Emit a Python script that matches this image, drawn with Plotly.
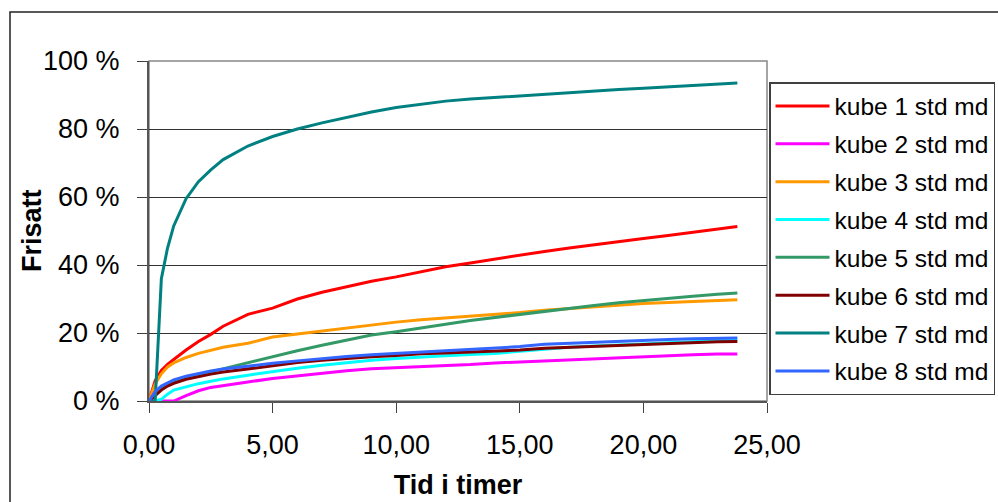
import plotly.graph_objects as go

t = [0, 0.25, 0.5, 0.75, 1, 1.5, 2, 2.5, 3, 4, 5, 6, 7, 8, 9, 10, 11, 12, 13, 14,
     15, 16, 17, 18, 19, 20, 21, 22, 23, 23.8]

kube1 = [0, 6, 9, 10.8, 12.2, 15, 17.5, 19.6, 22, 25.5, 27.3, 30, 32, 33.7, 35.2, 36.5, 38, 39.5, 40.6, 41.8,
         43, 44, 45, 46, 47, 47.8, 48.7, 49.6, 50.5, 51.3]
kube2 = [0, 0, 0, 0, 0, 1.6, 3, 4, 4.6, 5.6, 6.6, 7.4, 8.2, 8.9, 9.5, 9.8, 10.1, 10.2, 10.7, 11.2,
         11.5, 12, 12.2, 12.6, 12.9, 13.1, 13.3, 13.6, 13.8, 13.8]
kube3 = [0, 5, 8, 10, 11.2, 12.8, 14, 15, 15.8, 17, 18.8, 19.7, 20.6, 21.5, 22.5, 23.2, 23.9, 24.4, 25, 25.5,
         26, 26.7, 27.2, 27.7, 28.3, 28.7, 29, 29.3, 29.6, 29.8]
kube4 = [0, 0, 0.5, 2, 3.2, 4.2, 5.1, 5.8, 6.5, 7.6, 8.7, 9.6, 10.5, 11.3, 12, 12.5, 13, 13.3, 13.7, 14,
         14.6, 15.3, 15.8, 16.2, 16.6, 16.8, 17.1, 17.4, 17.7, 18]
kube5 = [0, 2, 3.8, 4.9, 5.7, 6.8, 7.7, 8.6, 9.5, 11.2, 12.9, 14.8, 16.4, 17.8, 19.4, 20.4, 21.4, 22.6, 23.7, 24.6,
         25.5, 26.5, 27.3, 28.1, 28.9, 29.6, 30.2, 30.8, 31.4, 31.8]
kube6 = [0, 1.5, 3.2, 4.4, 5.2, 6.4, 7.2, 7.9, 8.5, 9.5, 10.5, 11.3, 12, 12.6, 13, 13.4, 13.9, 14.1, 14.4, 14.6,
         15, 15.5, 15.8, 16.1, 16.3, 16.5, 16.8, 17.1, 17.4, 17.5]
kube7 = [0, 0, 36, 45, 51.5, 59.5, 64.5, 68, 71, 75, 77.8, 80, 81.8, 83.5, 85, 86.3, 87.3, 88.2, 88.8, 89.3,
         89.8, 90.3, 90.8, 91.2, 91.6, 92, 92.4, 92.8, 93.2, 93.5]
kube8 = [0, 2.8, 4.4, 5.4, 6.2, 7.3, 8.1, 8.8, 9.4, 10.3, 11.1, 11.8, 12.5, 13.1, 13.6, 14, 14.5, 14.9, 15.2, 15.5,
         16, 16.7, 17, 17.3, 17.6, 18, 18.1, 18.3, 18.4, 18.5]

names = ["kube 1 std md", "kube 2 std md", "kube 3 std md", "kube 4 std md",
         "kube 5 std md", "kube 6 std md", "kube 7 std md", "kube 8 std md"]
series = [kube1, kube2, kube3, kube4, kube5, kube6, kube7, kube8]
colors = ["#FF0000", "#FF00FF", "#FF9900", "#00FFFF", "#339966", "#800000", "#008080", "#3366FF"]

x_ticks = [0, 5, 10, 15, 20, 25]
x_labels = ["0,00", "5,00", "10,00", "15,00", "20,00", "25,00"]
y_ticks = [0, 20, 40, 60, 80, 100]
y_labels = ["0 %", "20 %", "40 %", "60 %", "80 %", "100 %"]

FONT = "Liberation Sans, Arial, sans-serif"

fig = go.Figure()
for i, (nm, ys, c) in enumerate(zip(names, series, colors)):
    fig.add_trace(go.Scatter(x=t, y=ys, mode="lines", name=nm,
                             line=dict(color=c, width=3), legendgroup=str(i)))

W, H = 998, 502
L, R, T, B = 149, 231, 61, 101
pw, ph = W - L - R, H - T - B

def px2paper_x(px):
    return (px - L) / pw

def px2paper_y(py):
    return (H - B - py) / ph

fig.update_layout(
    width=W, height=H,
    margin=dict(l=L, r=R, t=T, b=B, autoexpand=False),
    paper_bgcolor="white", plot_bgcolor="white",
    font=dict(family=FONT, color="black"),
    showlegend=True,
    legend=dict(
        x=px2paper_x(769), y=px2paper_y(82), xanchor="left", yanchor="top",
        bgcolor="white", bordercolor="#404040", borderwidth=1.5,
        font=dict(size=24.5, family=FONT, color="black"),
        tracegroupgap=3, itemwidth=54,
    ),
    xaxis=dict(
        range=[0, 25], tickvals=x_ticks, ticktext=x_labels,
        ticks="outside", ticklen=10, tickcolor="#404040", tickwidth=1,
        showline=True, linecolor="#555555", linewidth=2,
        showgrid=False, zeroline=False,
        tickfont=dict(size=27, family=FONT),
        title=dict(text="<b>Tid i timer</b>", font=dict(size=27, family=FONT), standoff=16),
        ticklabelstandoff=9,
    ),
    yaxis=dict(
        range=[0, 100], tickvals=y_ticks, ticktext=y_labels,
        ticks="outside", ticklen=10, tickcolor="#404040", tickwidth=1,
        showline=True, linecolor="#555555", linewidth=2,
        showgrid=True, gridcolor="#333333", gridwidth=1.3,
        zeroline=False,
        tickfont=dict(size=27, family=FONT),
        ticklabelstandoff=12,
    ),
    annotations=[
        dict(text="<b>Frisatt</b>", xref="paper", yref="paper",
             x=px2paper_x(32), y=px2paper_y(231), xanchor="center", yanchor="middle",
             textangle=-90, showarrow=False, font=dict(size=27, family=FONT, color="black")),
    ],
    shapes=[
        dict(type="rect", xref="paper", yref="paper", x0=0, x1=px2paper_x(767),
             y0=0, y1=1, line=dict(color="#888888", width=1.5), layer="below"),
        dict(type="rect", xref="paper", yref="paper",
             x0=px2paper_x(10), x1=px2paper_x(1010),
             y0=px2paper_y(512), y1=px2paper_y(12),
             line=dict(color="#222222", width=1.5), layer="below"),
    ],
)

fig.write_html("out.html")
